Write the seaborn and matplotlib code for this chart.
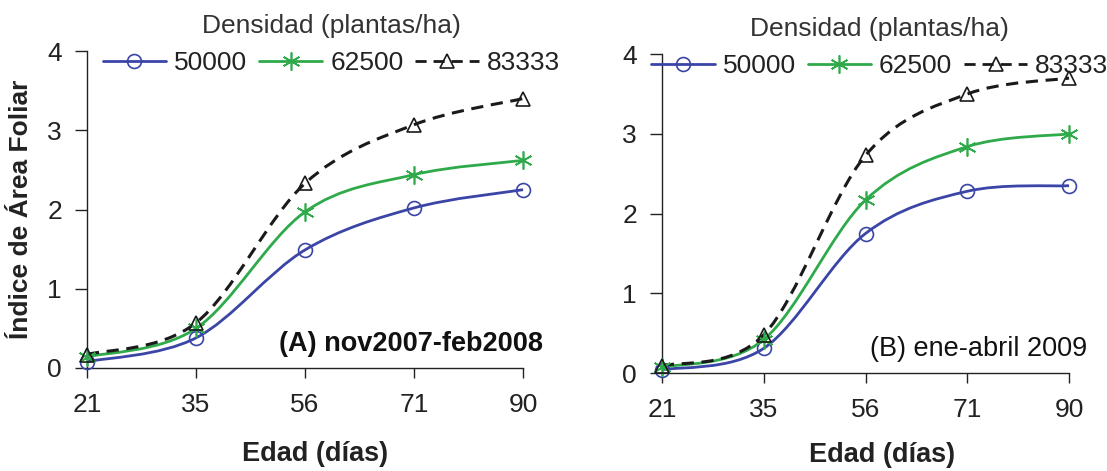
import numpy as np
import pandas as pd
import matplotlib
matplotlib.use("Agg")
import matplotlib.pyplot as plt
from matplotlib.path import Path
from matplotlib.patches import PathPatch
from matplotlib.lines import Line2D
import seaborn as sns

sns.set_style("ticks")
plt.rcParams["font.family"] = ["Liberation Sans", "DejaVu Sans"]

# data
days = ["21", "35", "56", "71", "90"]
densities = ["50000", "62500", "83333"]

a_50000 = [0.08, 0.38, 1.49, 2.02, 2.25]
a_62500 = [0.14, 0.50, 1.97, 2.44, 2.62]
a_83333 = [0.17, 0.57, 2.33, 3.07, 3.40]

b_50000 = [0.04, 0.31, 1.75, 2.28, 2.35]
b_62500 = [0.07, 0.42, 2.17, 2.84, 3.00]
b_83333 = [0.09, 0.48, 2.73, 3.50, 3.70]

panel_titles = ["(A) nov2007-feb2008", "(B) ene-abril 2009"]
panel_weights = ["bold", "normal"]

colors = ["#3a45a6", "#2faa4a", "#1a1a1a"]
markers = ["o", (6, 2, 0), "^"]
msizes = [10, 13, 10]
styles = ["-", "-", (0, (4, 2.5))]


def smooth_path(x, y):
    # excel style smoothed line: bezier segments through the points
    x = np.asarray(x, float)
    y = np.asarray(y, float)
    px = np.concatenate([[x[0]], x, [x[-1]]])
    py = np.concatenate([[y[0]], y, [y[-1]]])
    verts = [(x[0], y[0])]
    codes = [Path.MOVETO]
    for i in range(1, len(x)):
        c1 = (px[i] + (px[i + 1] - px[i - 1]) / 6, py[i] + (py[i + 1] - py[i - 1]) / 6)
        c2 = (px[i + 1] - (px[i + 2] - px[i]) / 6, py[i + 1] - (py[i + 2] - py[i]) / 6)
        verts += [c1, c2, (x[i], y[i])]
        codes += [Path.CURVE4] * 3
    return Path(verts, codes)


fig = plt.figure(figsize=(11.07, 4.71), dpi=100)
ax1 = fig.add_axes([0.0786, 0.2187, 0.3939, 0.673])
ax2 = fig.add_axes([0.598, 0.208, 0.3677, 0.677])

pos = np.arange(len(days))
panels = [(ax1, [a_50000, a_62500, a_83333]), (ax2, [b_50000, b_62500, b_83333])]

for k, (ax, series) in enumerate(panels):
    for vals, c, m, ms, ls in zip(series, colors, markers, msizes, styles):
        ax.add_patch(PathPatch(smooth_path(pos, vals), fill=False, edgecolor=c,
                               linewidth=2.0 if ls == "-" else 2.2, linestyle=ls,
                               zorder=2, clip_on=False))
        sns.lineplot(x=pos, y=vals, ax=ax, linestyle="none", marker=m, markersize=ms,
                     markerfacecolor="none", markeredgecolor=c, markeredgewidth=1.2,
                     color=c, zorder=3, clip_on=False)

    ax.set_xlim(0, 4)
    ax.set_ylim(0, 4)
    ax.set_xticks(pos, days)
    ax.set_yticks([0, 1, 2, 3, 4])
    ax.tick_params(axis="x", direction="out", length=7, width=1, pad=11,
                   labelsize=19, colors="#222222")
    ax.tick_params(axis="y", direction="out", length=9, width=1, pad=9,
                   labelsize=19, colors="#222222")
    for side in ["top", "right"]:
        ax.spines[side].set_visible(False)
    for side in ["left", "bottom"]:
        ax.spines[side].set_color("#222222")
        ax.spines[side].set_linewidth(1)

    ax.set_xlabel("Edad (días)", fontsize=19.5, fontweight="bold", color="#222222")
    ax.text(1.045, 0.075, panel_titles[k], transform=ax.transAxes, ha="right",
            va="center", fontsize=19.5, fontweight=panel_weights[k], color="#111111")

    handles = [Line2D([], [], color=c, linestyle=ls, linewidth=2, marker=m, markersize=ms,
                      markerfacecolor="none", markeredgewidth=1.2)
               for c, m, ms, ls in zip(colors, markers, msizes, styles)]
    leg = ax.legend(handles, densities, title="Densidad (plantas/ha)", ncol=3,
                    frameon=False, fontsize=19, title_fontsize=19, handlelength=2.4,
                    handletextpad=0.3, columnspacing=0.45, borderpad=0,
                    loc="center", bbox_to_anchor=(0.56 if k == 0 else 0.535, 1.02),
                    bbox_transform=ax.transAxes)
    leg.get_title().set_color("#333333")
    for t in leg.get_texts():
        t.set_color("#222222")

ax1.xaxis.set_label_coords(0.523, -0.23)
ax2.xaxis.set_label_coords(0.54, -0.215)
ax1.set_ylabel("Índice de Área Foliar", fontsize=19, fontweight="bold", color="#222222")
ax1.yaxis.set_label_coords(-0.125, 0.5)

fig.savefig("out.png", dpi=100)
